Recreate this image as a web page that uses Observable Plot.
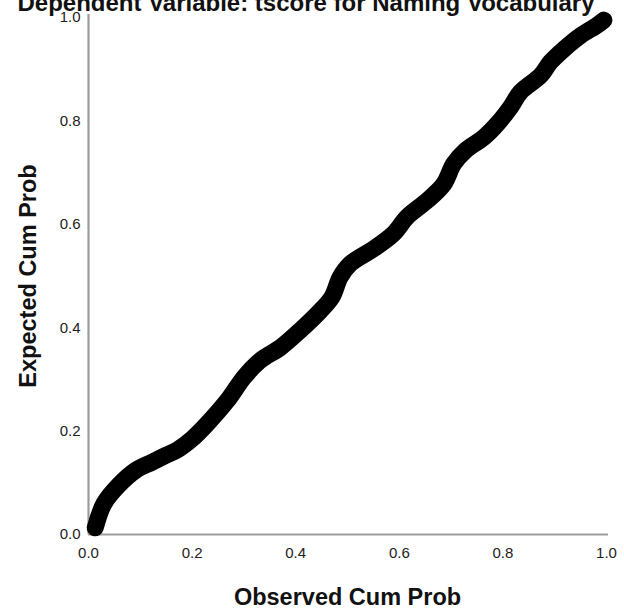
<!DOCTYPE html>
<html>
<head>
<meta charset="utf-8">
<script src="https://cdn.jsdelivr.net/npm/d3@7"></script>
<script src="https://cdn.jsdelivr.net/npm/@observablehq/plot@0.6"></script>
<style>
  html, body { margin: 0; padding: 0; background: #fff; overflow: hidden; }
  #wrap { position: relative; width: 624px; height: 614px; }
  #title {
    position: absolute; left: 0; width: 612px; top: -9px;
    text-align: center; font: bold 24px Arial, "Liberation Sans", sans-serif;
    line-height: 24px; color: #111; white-space: nowrap;
  }
  #chart { position: absolute; left: 0; top: 0; }
</style>
</head>
<body>
<div id="wrap">
  <div id="chart"></div>
  <div id="title">Dependent Variable: tscore for Naming Vocabulary</div>
</div>
<script>
// Normal P-P plot of regression standardized residuals
const observedCumProb = [0.013, 0.030, 0.058, 0.091, 0.123, 0.149, 0.172, 0.200, 0.229, 0.268, 0.300,
  0.332, 0.371, 0.409, 0.448, 0.470, 0.486, 0.506, 0.551, 0.589,
  0.615, 0.654, 0.686, 0.705, 0.728, 0.763, 0.789, 0.815, 0.834, 0.873,
  0.892, 0.918, 0.950, 0.982, 0.995];
const expectedCumProb = [0.013, 0.060, 0.095, 0.124, 0.140, 0.153, 0.164, 0.185, 0.214, 0.259, 0.304,
  0.337, 0.362, 0.395, 0.433, 0.459, 0.498, 0.524, 0.553, 0.582,
  0.614, 0.646, 0.678, 0.717, 0.743, 0.768, 0.794, 0.827, 0.856, 0.888,
  0.914, 0.939, 0.965, 0.985, 0.995];
const tickValues = [0, 0.2, 0.4, 0.6, 0.8, 1.0];
const xTitle = "Observed Cum Prob";
const yTitle = "Expected Cum Prob";

const points = observedCumProb.map((x, i) => ({x, y: expectedCumProb[i]}));

const chart = Plot.plot({
  width: 624,
  height: 614,
  marginLeft: 88,
  marginRight: 18,
  marginTop: 17,
  marginBottom: 80,
  x: {domain: [0, 1]},
  y: {domain: [0, 1]},
  style: {fontFamily: "Arial, 'Liberation Sans', sans-serif", background: "#fff", color: "#222"},
  marks: [
    Plot.axisX({ticks: tickValues, tickFormat: ".1f", tickSize: 0, tickPadding: 13, fontSize: 15, label: null, fill: "#222"}),
    Plot.axisY({ticks: tickValues, tickFormat: ".1f", tickSize: 0, tickPadding: 8, fontSize: 15, label: null, fill: "#222"}),
    Plot.ruleY([0], {stroke: "#9c9c9c", strokeWidth: 2.2, insetRight: -2}),
    Plot.ruleX([0], {stroke: "#9c9c9c", strokeWidth: 2.2, insetTop: -3}),
    Plot.line(points, {
      x: "x", y: "y", stroke: "#000", strokeWidth: 17,
      strokeLinecap: "round", strokeLinejoin: "round", curve: "catmull-rom"
    }),
    Plot.text([xTitle], {frameAnchor: "bottom", dy: 63, fontSize: 23.5, fontWeight: "bold", fill: "#111", textAnchor: "middle", lineAnchor: "middle"}),
    Plot.text([yTitle], {frameAnchor: "left", dx: -60, rotate: -90, fontSize: 23.5, fontWeight: "bold", fill: "#111", textAnchor: "middle", lineAnchor: "middle"})
  ]
});
document.getElementById("chart").appendChild(chart);
</script>
</body>
</html>
